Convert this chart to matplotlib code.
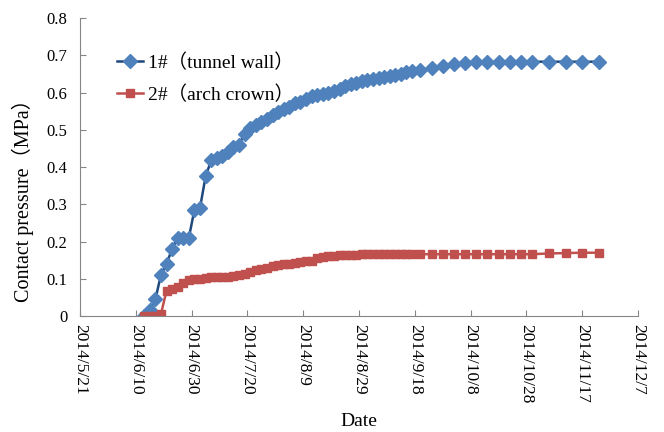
import datetime as dt
import matplotlib
matplotlib.use("Agg")
import matplotlib.pyplot as plt

plt.rcParams["font.family"] = ["Liberation Serif", "Noto Sans CJK SC"]

# measurement days, counted from 2014/6/10
days = [3, 5, 7, 9, 11, 13, 15, 17, 19, 21, 23, 25, 27, 29, 31, 33, 35, 37, 39,
        41, 43, 45, 47, 49, 51, 53, 55, 57, 59, 61, 63, 65, 67, 69, 71, 73, 75,
        77, 79, 81, 83, 85, 87, 89, 91, 93, 95, 97, 99, 102, 106, 110, 114, 118,
        122, 126, 130, 134, 138, 142, 148, 154, 160, 166]

wall = [0.0, 0.016, 0.045, 0.11, 0.14, 0.18, 0.21, 0.21, 0.21, 0.285, 0.29,
        0.375, 0.418, 0.425, 0.43, 0.44, 0.455, 0.46, 0.49, 0.505, 0.513, 0.522,
        0.53, 0.54, 0.548, 0.555, 0.562, 0.571, 0.575, 0.582, 0.59, 0.593, 0.597,
        0.6, 0.605, 0.61, 0.617, 0.622, 0.626, 0.63, 0.633, 0.636, 0.639, 0.642,
        0.645, 0.647, 0.651, 0.655, 0.658, 0.66, 0.665, 0.671, 0.677, 0.68,
        0.681, 0.682, 0.682, 0.682, 0.683, 0.683, 0.683, 0.683, 0.683, 0.683]

crown = [0.0, 0.0, 0.0, 0.005, 0.068, 0.072, 0.079, 0.088, 0.098, 0.1, 0.1,
         0.102, 0.104, 0.105, 0.105, 0.106, 0.107, 0.11, 0.113, 0.118, 0.123,
         0.127, 0.13, 0.133, 0.136, 0.139, 0.14, 0.143, 0.145, 0.147, 0.148,
         0.155, 0.158, 0.16, 0.161, 0.163, 0.165, 0.165, 0.165, 0.166, 0.166,
         0.166, 0.166, 0.167, 0.167, 0.167, 0.167, 0.167, 0.167, 0.166, 0.166,
         0.166, 0.166, 0.166, 0.166, 0.166, 0.166, 0.166, 0.166, 0.166, 0.168,
         0.169, 0.17, 0.17]

start = dt.date(2014, 6, 10)
dates = [start + dt.timedelta(days=d) for d in days]

tick_dates = [dt.date(2014, 5, 21) + dt.timedelta(days=20 * i) for i in range(11)]
tick_labels = [f"{d.year}/{d.month}/{d.day}" for d in tick_dates]

fig = plt.figure(figsize=(6.64, 4.32), dpi=100)
ax = fig.add_axes([0.1205, 0.2685, 0.8405, 0.6895])

ax.plot(dates, wall, color="#1F497D", lw=1.8, marker="D", ms=7,
        mfc="#4F81BD", mec="#4F81BD", label="1#（tunnel wall）")
ax.plot(dates, crown, color="#C0504D", lw=1.8, marker="s", ms=5.5,
        mfc="#C0504D", mec="#C0504D", label="2#（arch crown）")

ax.set_xlim(tick_dates[0], tick_dates[-1])
ax.set_ylim(0, 0.8)
ax.set_xticks(tick_dates)
ax.set_xticklabels(tick_labels, rotation=270, fontsize=12.5)
ax.set_yticks([0, 0.1, 0.2, 0.3, 0.4, 0.5, 0.6, 0.7, 0.8])
ax.set_yticklabels(["0", "0.1", "0.2", "0.3", "0.4", "0.5", "0.6", "0.7", "0.8"],
                   fontsize=12)
ax.tick_params(direction="in", length=4, color="#868686")
ax.tick_params(axis="y", pad=9)
ax.tick_params(axis="x", pad=6)

for s in ["top", "right"]:
    ax.spines[s].set_visible(False)
for s in ["left", "bottom"]:
    ax.spines[s].set_color("#868686")

ax.set_xlabel("Date", fontsize=14, labelpad=7)
ax.set_ylabel("Contact pressure（MPa）", fontsize=14.5)
ax.yaxis.set_label_coords(-0.082, 0.405)

ax.legend(loc="upper left", bbox_to_anchor=(0.035, 0.94), frameon=False,
          fontsize=14, handlelength=1.35, labelspacing=0.7, handletextpad=0.25)

fig.savefig("out.png", dpi=100)
